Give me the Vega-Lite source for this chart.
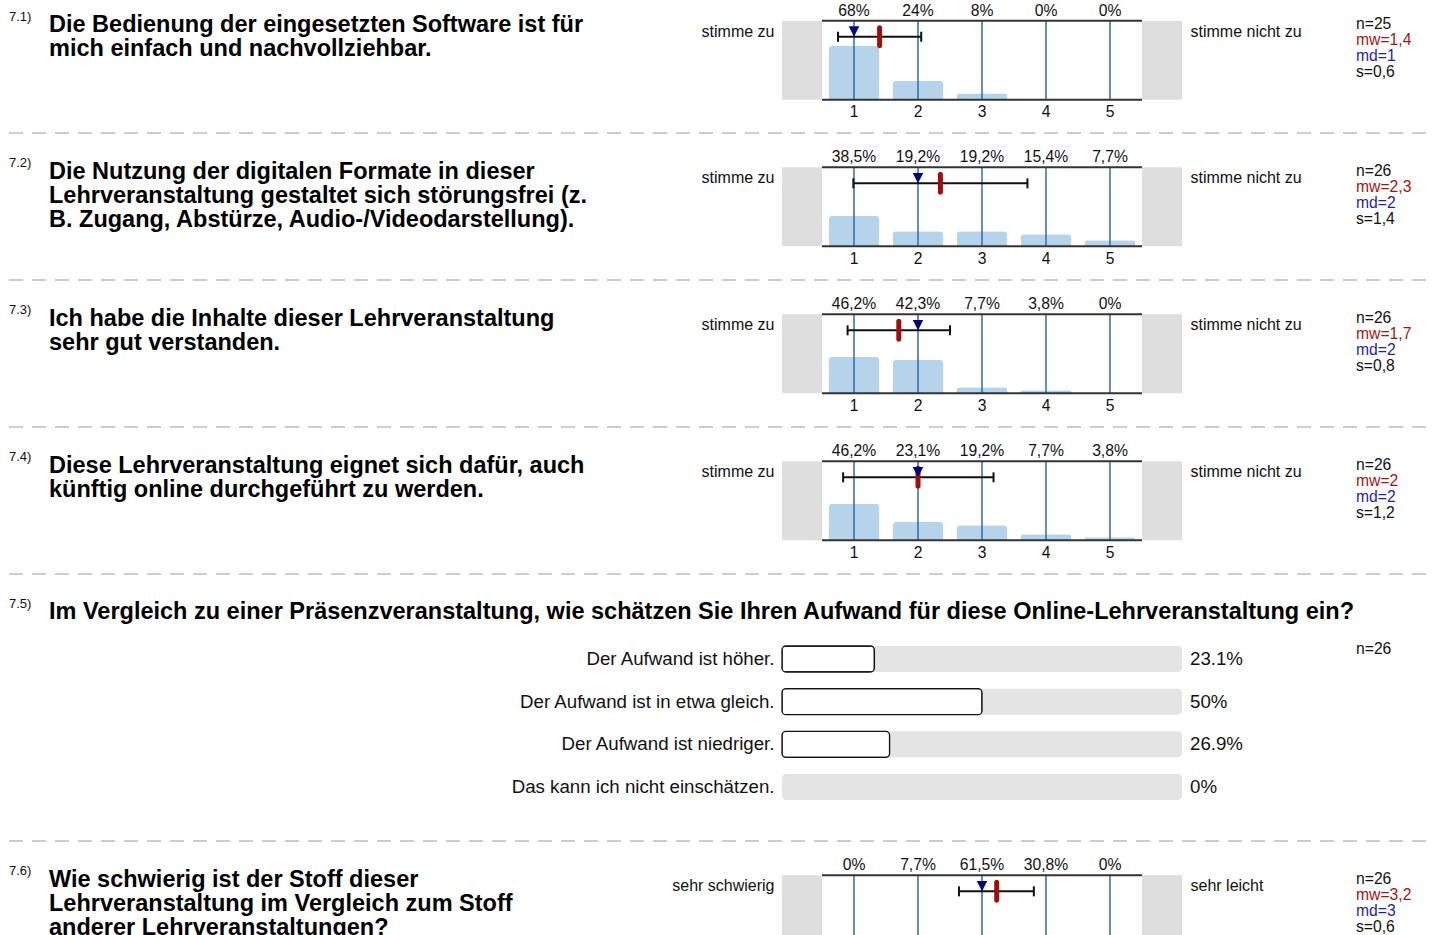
{
"$schema": "https://vega.github.io/schema/vega-lite/v6.json",
"background": "white",
"padding": {"left": 8, "top": 0, "right": 0, "bottom": 0},
"spacing": 0,
"bounds": "flush",
"columns": 3,
"align": "each",
"config": {
  "view": {"stroke": null},
  "font": "Liberation Sans",
  "text": {"font": "Liberation Sans", "color": "#111111"},
  "tick": {"opacity": 1},
  "axis": {"domain": false, "ticks": false, "tickSize": 0, "grid": false, "labelFont": "Liberation Sans", "titleFont": "Liberation Sans", "labelColor": "#111111", "titleColor": "#111111", "titleFontWeight": "normal", "labelFlush": false}
},
"datasets": {
  "bars": [
    {"q":"7.1","score":1,"pct":68,"label":"68%"},{"q":"7.1","score":2,"pct":24,"label":"24%"},{"q":"7.1","score":3,"pct":8,"label":"8%"},{"q":"7.1","score":4,"pct":0,"label":"0%"},{"q":"7.1","score":5,"pct":0,"label":"0%"},
    {"q":"7.2","score":1,"pct":38.5,"label":"38,5%"},{"q":"7.2","score":2,"pct":19.2,"label":"19,2%"},{"q":"7.2","score":3,"pct":19.2,"label":"19,2%"},{"q":"7.2","score":4,"pct":15.4,"label":"15,4%"},{"q":"7.2","score":5,"pct":7.7,"label":"7,7%"},
    {"q":"7.3","score":1,"pct":46.2,"label":"46,2%"},{"q":"7.3","score":2,"pct":42.3,"label":"42,3%"},{"q":"7.3","score":3,"pct":7.7,"label":"7,7%"},{"q":"7.3","score":4,"pct":3.8,"label":"3,8%"},{"q":"7.3","score":5,"pct":0,"label":"0%"},
    {"q":"7.4","score":1,"pct":46.2,"label":"46,2%"},{"q":"7.4","score":2,"pct":23.1,"label":"23,1%"},{"q":"7.4","score":3,"pct":19.2,"label":"19,2%"},{"q":"7.4","score":4,"pct":7.7,"label":"7,7%"},{"q":"7.4","score":5,"pct":3.8,"label":"3,8%"},
    {"q":"7.6","score":1,"pct":0,"label":"0%"},{"q":"7.6","score":2,"pct":7.7,"label":"7,7%"},{"q":"7.6","score":3,"pct":61.5,"label":"61,5%"},{"q":"7.6","score":4,"pct":30.8,"label":"30,8%"},{"q":"7.6","score":5,"pct":0,"label":"0%"}
  ],
  "summary": [
    {"q":"7.1","mean":1.4,"median":1,"lo":0.75,"hi":2.05},
    {"q":"7.2","mean":2.35,"median":2,"lo":0.99,"hi":3.71},
    {"q":"7.3","mean":1.7,"median":2,"lo":0.9,"hi":2.5},
    {"q":"7.4","mean":2.0,"median":2,"lo":0.83,"hi":3.18},
    {"q":"7.6","mean":3.23,"median":3,"lo":2.64,"hi":3.81}
  ],
  "qtext": [
    {"q":"7.1","part":"num","line":0,"text":"7.1)"},
    {"q":"7.1","part":"q","line":0,"text":"Die Bedienung der eingesetzten Software ist für"},
    {"q":"7.1","part":"q","line":1,"text":"mich einfach und nachvollziehbar."},
    {"q":"7.2","part":"num","line":0,"text":"7.2)"},
    {"q":"7.2","part":"q","line":0,"text":"Die Nutzung der digitalen Formate in dieser"},
    {"q":"7.2","part":"q","line":1,"text":"Lehrveranstaltung gestaltet sich störungsfrei (z."},
    {"q":"7.2","part":"q","line":2,"text":"B. Zugang, Abstürze, Audio-/Videodarstellung)."},
    {"q":"7.3","part":"num","line":0,"text":"7.3)"},
    {"q":"7.3","part":"q","line":0,"text":"Ich habe die Inhalte dieser Lehrveranstaltung"},
    {"q":"7.3","part":"q","line":1,"text":"sehr gut verstanden."},
    {"q":"7.4","part":"num","line":0,"text":"7.4)"},
    {"q":"7.4","part":"q","line":0,"text":"Diese Lehrveranstaltung eignet sich dafür, auch"},
    {"q":"7.4","part":"q","line":1,"text":"künftig online durchgeführt zu werden."},
    {"q":"7.5","part":"num","line":0,"text":"7.5)"},
    {"q":"7.5","part":"q","line":0,"text":"Im Vergleich zu einer Präsenzveranstaltung, wie schätzen Sie Ihren Aufwand für diese Online-Lehrveranstaltung ein?"},
    {"q":"7.6","part":"num","line":0,"text":"7.6)"},
    {"q":"7.6","part":"q","line":0,"text":"Wie schwierig ist der Stoff dieser"},
    {"q":"7.6","part":"q","line":1,"text":"Lehrveranstaltung im Vergleich zum Stoff"},
    {"q":"7.6","part":"q","line":2,"text":"anderer Lehrveranstaltungen?"}
  ],
  "stats": [
    {"q":"7.1","stat":"n","line":0,"text":"n=25"},{"q":"7.1","stat":"mw","line":1,"text":"mw=1,4"},{"q":"7.1","stat":"md","line":2,"text":"md=1"},{"q":"7.1","stat":"s","line":3,"text":"s=0,6"},
    {"q":"7.2","stat":"n","line":0,"text":"n=26"},{"q":"7.2","stat":"mw","line":1,"text":"mw=2,3"},{"q":"7.2","stat":"md","line":2,"text":"md=2"},{"q":"7.2","stat":"s","line":3,"text":"s=1,4"},
    {"q":"7.3","stat":"n","line":0,"text":"n=26"},{"q":"7.3","stat":"mw","line":1,"text":"mw=1,7"},{"q":"7.3","stat":"md","line":2,"text":"md=2"},{"q":"7.3","stat":"s","line":3,"text":"s=0,8"},
    {"q":"7.4","stat":"n","line":0,"text":"n=26"},{"q":"7.4","stat":"mw","line":1,"text":"mw=2"},{"q":"7.4","stat":"md","line":2,"text":"md=2"},{"q":"7.4","stat":"s","line":3,"text":"s=1,2"},
    {"q":"7.5","stat":"n","line":0,"text":"n=26"},
    {"q":"7.6","stat":"n","line":0,"text":"n=26"},{"q":"7.6","stat":"mw","line":1,"text":"mw=3,2"},{"q":"7.6","stat":"md","line":2,"text":"md=3"},{"q":"7.6","stat":"s","line":3,"text":"s=0,6"}
  ],
  "effort": [
    {"answer":"Der Aufwand ist höher.","pct":23.1,"label":"23.1%"},
    {"answer":"Der Aufwand ist in etwa gleich.","pct":50,"label":"50%"},
    {"answer":"Der Aufwand ist niedriger.","pct":26.9,"label":"26.9%"},
    {"answer":"Das kann ich nicht einschätzen.","pct":0,"label":"0%"}
  ]
},
"concat": [
  {"width": 773, "height": 133, "data": {"name": "qtext"}, "transform": [{"filter": "datum.q == '7.1'"}],
   "encoding": {"x": {"field": "part", "type": "nominal", "scale": {"type": "point", "domain": ["num","q"], "range": [0,40], "padding": 0}, "axis": null},
                "y": {"field": "line", "type": "quantitative", "scale": {"domain": [0,1], "range": [32,56], "nice": false, "zero": false}, "axis": null},
                "text": {"field": "text"}},
   "layer": [
    {"transform": [{"filter": "datum.part == 'num'"}], "mark": {"type": "text", "align": "left", "baseline": "alphabetic", "fontSize": 13, "dy": -11.5}},
    {"transform": [{"filter": "datum.part == 'q'"}], "mark": {"type": "text", "align": "left", "baseline": "alphabetic", "fontSize": 23.5, "fontWeight": "bold", "color": "#000000"}}
   ]},
  {"width": 400, "height": 99.7, "resolve": {"axis": {"y": "independent"}},
   "layer": [
    {"data": {"values": [{}]}, "mark": {"type": "rect", "color": "#dedede"},
     "encoding": {"x": {"datum": -0.125, "type": "quantitative", "scale": {"domain": [-0.125,6.125], "nice": false, "zero": false, "padding": 0}, "axis": null}, "x2": {"datum": 0.5},
                  "y": {"datum": 0, "type": "quantitative", "scale": {"domain": [0,100], "range": [99.7,20.7], "nice": false, "zero": false}, "axis": {"orient": "left", "labels": false, "title": "stimme zu", "titleAngle": 0, "titleAlign": "right", "titleBaseline": "alphabetic", "titleX": -8, "titleY": 36.2, "titleFontSize": 16}}, "y2": {"datum": 100}}},
    {"data": {"values": [{}]}, "mark": {"type": "rect", "color": "#dedede"},
     "encoding": {"x": {"datum": 5.5, "type": "quantitative", "scale": {"domain": [-0.125,6.125], "nice": false, "zero": false, "padding": 0}, "axis": null}, "x2": {"datum": 6.125},
                  "y": {"datum": 0, "type": "quantitative", "scale": {"domain": [0,100], "range": [99.7,20.7], "nice": false, "zero": false}, "axis": {"orient": "right", "labels": false, "title": "stimme nicht zu", "titleAngle": 0, "titleAlign": "left", "titleBaseline": "alphabetic", "titleX": 8, "titleY": 36.2, "titleFontSize": 16}}, "y2": {"datum": 100}}},
    {"data": {"name": "bars"}, "transform": [{"filter": "datum.q == '7.1'"}], "mark": {"type": "bar", "orient": "vertical", "size": 51, "color": "#b5d4eb", "cornerRadiusTopLeft": 4, "cornerRadiusTopRight": 4},
     "encoding": {"x": {"field": "score", "type": "quantitative", "scale": {"domain": [-0.125,6.125], "nice": false, "zero": false, "padding": 0}, "axis": null},
                  "y": {"field": "pct", "type": "quantitative", "scale": {"domain": [0,100], "range": [99.7,20.7], "nice": false, "zero": false}, "axis": null}}},
    {"data": {"name": "bars"}, "transform": [{"filter": "datum.q == '7.1'"}], "mark": {"type": "rule", "color": "#2d6cb0", "strokeWidth": 1.5},
     "encoding": {"x": {"field": "score", "type": "quantitative", "scale": {"domain": [-0.125,6.125], "nice": false, "zero": false, "padding": 0}, "axis": null},
                  "y": {"datum": 0, "type": "quantitative", "scale": {"domain": [0,100], "range": [99.7,20.7], "nice": false, "zero": false}, "axis": null}, "y2": {"datum": 100}}},
    {"data": {"values": [{}]}, "mark": {"type": "rule", "color": "#333333", "strokeWidth": 2},
     "encoding": {"x": {"datum": 0.5, "type": "quantitative", "scale": {"domain": [-0.125,6.125], "nice": false, "zero": false, "padding": 0}, "axis": null}, "x2": {"datum": 5.5},
                  "y": {"datum": 100, "type": "quantitative", "scale": {"domain": [0,100], "range": [99.7,20.7], "nice": false, "zero": false}, "axis": null}}},
    {"data": {"values": [{}]}, "mark": {"type": "rule", "color": "#333333", "strokeWidth": 2},
     "encoding": {"x": {"datum": 0.5, "type": "quantitative", "scale": {"domain": [-0.125,6.125], "nice": false, "zero": false, "padding": 0}, "axis": null}, "x2": {"datum": 5.5},
                  "y": {"datum": 0, "type": "quantitative", "scale": {"domain": [0,100], "range": [99.7,20.7], "nice": false, "zero": false}, "axis": null}}},
    {"data": {"name": "bars"}, "transform": [{"filter": "datum.q == '7.1'"}], "mark": {"type": "text", "align": "center", "baseline": "alphabetic", "dy": -5, "fontSize": 15.7},
     "encoding": {"x": {"field": "score", "type": "quantitative", "scale": {"domain": [-0.125,6.125], "nice": false, "zero": false, "padding": 0}, "axis": null},
                  "y": {"datum": 100, "type": "quantitative", "scale": {"domain": [0,100], "range": [99.7,20.7], "nice": false, "zero": false}, "axis": null}, "text": {"field": "label"}}},
    {"data": {"name": "bars"}, "transform": [{"filter": "datum.q == '7.1'"}], "mark": {"type": "text", "align": "center", "baseline": "alphabetic", "dy": 17.5, "fontSize": 15.7},
     "encoding": {"x": {"field": "score", "type": "quantitative", "scale": {"domain": [-0.125,6.125], "nice": false, "zero": false, "padding": 0}, "axis": null},
                  "y": {"datum": 0, "type": "quantitative", "scale": {"domain": [0,100], "range": [99.7,20.7], "nice": false, "zero": false}, "axis": null}, "text": {"field": "score", "type": "quantitative", "format": "d"}}},
    {"data": {"name": "summary"}, "transform": [{"filter": "datum.q == '7.1'"}], "mark": {"type": "rule", "color": "#111111", "strokeWidth": 2},
     "encoding": {"x": {"field": "lo", "type": "quantitative", "scale": {"domain": [-0.125,6.125], "nice": false, "zero": false, "padding": 0}, "axis": null}, "x2": {"field": "hi"},
                  "y": {"datum": 79.7, "type": "quantitative", "scale": {"domain": [0,100], "range": [99.7,20.7], "nice": false, "zero": false}, "axis": null}}},
    {"data": {"name": "summary"}, "transform": [{"filter": "datum.q == '7.1'"}], "mark": {"type": "tick", "orient": "vertical", "size": 10, "thickness": 2, "color": "#111111", "opacity": 1},
     "encoding": {"x": {"field": "lo", "type": "quantitative", "scale": {"domain": [-0.125,6.125], "nice": false, "zero": false, "padding": 0}, "axis": null},
                  "y": {"datum": 79.7, "type": "quantitative", "scale": {"domain": [0,100], "range": [99.7,20.7], "nice": false, "zero": false}, "axis": null}}},
    {"data": {"name": "summary"}, "transform": [{"filter": "datum.q == '7.1'"}], "mark": {"type": "tick", "orient": "vertical", "size": 10, "thickness": 2, "color": "#111111", "opacity": 1},
     "encoding": {"x": {"field": "hi", "type": "quantitative", "scale": {"domain": [-0.125,6.125], "nice": false, "zero": false, "padding": 0}, "axis": null},
                  "y": {"datum": 79.7, "type": "quantitative", "scale": {"domain": [0,100], "range": [99.7,20.7], "nice": false, "zero": false}, "axis": null}}},
    {"data": {"name": "summary"}, "transform": [{"filter": "datum.q == '7.1'"}], "mark": {"type": "tick", "orient": "vertical", "size": 23, "thickness": 5, "color": "#a00d0d", "opacity": 1, "cornerRadius": 2.5},
     "encoding": {"x": {"field": "mean", "type": "quantitative", "scale": {"domain": [-0.125,6.125], "nice": false, "zero": false, "padding": 0}, "axis": null},
                  "y": {"datum": 79.7, "type": "quantitative", "scale": {"domain": [0,100], "range": [99.7,20.7], "nice": false, "zero": false}, "axis": null}}},
    {"data": {"name": "summary"}, "transform": [{"filter": "datum.q == '7.1'"}], "mark": {"type": "point", "shape": "M-1,-1L1,-1L0,1Z", "size": 110, "filled": true, "opacity": 1, "color": "#00007f"},
     "encoding": {"x": {"field": "median", "type": "quantitative", "scale": {"domain": [-0.125,6.125], "nice": false, "zero": false, "padding": 0}, "axis": null},
                  "y": {"datum": 86.3, "type": "quantitative", "scale": {"domain": [0,100], "range": [99.7,20.7], "nice": false, "zero": false}, "axis": null}}}
   ]},
  {"width": 253, "height": 133, "data": {"name": "stats"}, "transform": [{"filter": "datum.q == '7.1'"}],
   "mark": {"type": "text", "align": "left", "baseline": "alphabetic", "fontSize": 15.7},
   "encoding": {"x": {"field": "q", "type": "nominal", "scale": {"type": "point", "range": [0,348]}, "axis": null},
                "y": {"field": "line", "type": "quantitative", "scale": {"domain": [0,1], "range": [29.2,45.2], "nice": false, "zero": false}, "axis": null},
                "color": {"field": "stat", "type": "nominal", "scale": {"domain": ["n","mw","md","s"], "range": ["#111111","#a31515","#1f1fa3","#111111"]}, "legend": null},
                "text": {"field": "text"}}},

  {"width": 773, "height": 1, "data": {"values": [{}]}, "mark": {"type": "rule", "stroke": "#bdbdbd", "strokeWidth": 1.5, "strokeDash": [14,9]},
   "encoding": {"x": {"datum": 0, "type": "quantitative", "scale": {"domain": [0,1], "range": [0,1422]}, "axis": null}, "x2": {"datum": 1},
                "y": {"datum": 1, "type": "quantitative", "scale": {"domain": [0,1]}, "axis": null}}},
  {"width": 400, "height": 1, "data": {"values": []}, "mark": {"type": "rule"}, "encoding": {"y": {"datum": 1, "type": "quantitative", "axis": null}}},
  {"width": 253, "height": 1, "data": {"values": []}, "mark": {"type": "rule"}, "encoding": {"y": {"datum": 1, "type": "quantitative", "axis": null}}},

  {"width": 773, "height": 145.67, "data": {"name": "qtext"}, "transform": [{"filter": "datum.q == '7.2'"}],
   "encoding": {"x": {"field": "part", "type": "nominal", "scale": {"type": "point", "domain": ["num","q"], "range": [0,40], "padding": 0}, "axis": null},
                "y": {"field": "line", "type": "quantitative", "scale": {"domain": [0,1], "range": [44.6,68.6], "nice": false, "zero": false}, "axis": null},
                "text": {"field": "text"}},
   "layer": [
    {"transform": [{"filter": "datum.part == 'num'"}], "mark": {"type": "text", "align": "left", "baseline": "alphabetic", "fontSize": 13, "dy": -11.5}},
    {"transform": [{"filter": "datum.part == 'q'"}], "mark": {"type": "text", "align": "left", "baseline": "alphabetic", "fontSize": 23.5, "fontWeight": "bold", "color": "#000000"}}
   ]},
  {"width": 400, "height": 112.3, "resolve": {"axis": {"y": "independent"}},
   "layer": [
    {"data": {"values": [{}]}, "mark": {"type": "rect", "color": "#dedede"},
     "encoding": {"x": {"datum": -0.125, "type": "quantitative", "scale": {"domain": [-0.125,6.125], "nice": false, "zero": false, "padding": 0}, "axis": null}, "x2": {"datum": 0.5},
                  "y": {"datum": 0, "type": "quantitative", "scale": {"domain": [0,100], "range": [112.3,33.3], "nice": false, "zero": false}, "axis": {"orient": "left", "labels": false, "title": "stimme zu", "titleAngle": 0, "titleAlign": "right", "titleBaseline": "alphabetic", "titleX": -8, "titleY": 48.8, "titleFontSize": 16}}, "y2": {"datum": 100}}},
    {"data": {"values": [{}]}, "mark": {"type": "rect", "color": "#dedede"},
     "encoding": {"x": {"datum": 5.5, "type": "quantitative", "scale": {"domain": [-0.125,6.125], "nice": false, "zero": false, "padding": 0}, "axis": null}, "x2": {"datum": 6.125},
                  "y": {"datum": 0, "type": "quantitative", "scale": {"domain": [0,100], "range": [112.3,33.3], "nice": false, "zero": false}, "axis": {"orient": "right", "labels": false, "title": "stimme nicht zu", "titleAngle": 0, "titleAlign": "left", "titleBaseline": "alphabetic", "titleX": 8, "titleY": 48.8, "titleFontSize": 16}}, "y2": {"datum": 100}}},
    {"data": {"name": "bars"}, "transform": [{"filter": "datum.q == '7.2'"}], "mark": {"type": "bar", "orient": "vertical", "size": 51, "color": "#b5d4eb", "cornerRadiusTopLeft": 4, "cornerRadiusTopRight": 4},
     "encoding": {"x": {"field": "score", "type": "quantitative", "scale": {"domain": [-0.125,6.125], "nice": false, "zero": false, "padding": 0}, "axis": null},
                  "y": {"field": "pct", "type": "quantitative", "scale": {"domain": [0,100], "range": [112.3,33.3], "nice": false, "zero": false}, "axis": null}}},
    {"data": {"name": "bars"}, "transform": [{"filter": "datum.q == '7.2'"}], "mark": {"type": "rule", "color": "#2d6cb0", "strokeWidth": 1.5},
     "encoding": {"x": {"field": "score", "type": "quantitative", "scale": {"domain": [-0.125,6.125], "nice": false, "zero": false, "padding": 0}, "axis": null},
                  "y": {"datum": 0, "type": "quantitative", "scale": {"domain": [0,100], "range": [112.3,33.3], "nice": false, "zero": false}, "axis": null}, "y2": {"datum": 100}}},
    {"data": {"values": [{}]}, "mark": {"type": "rule", "color": "#333333", "strokeWidth": 2},
     "encoding": {"x": {"datum": 0.5, "type": "quantitative", "scale": {"domain": [-0.125,6.125], "nice": false, "zero": false, "padding": 0}, "axis": null}, "x2": {"datum": 5.5},
                  "y": {"datum": 100, "type": "quantitative", "scale": {"domain": [0,100], "range": [112.3,33.3], "nice": false, "zero": false}, "axis": null}}},
    {"data": {"values": [{}]}, "mark": {"type": "rule", "color": "#333333", "strokeWidth": 2},
     "encoding": {"x": {"datum": 0.5, "type": "quantitative", "scale": {"domain": [-0.125,6.125], "nice": false, "zero": false, "padding": 0}, "axis": null}, "x2": {"datum": 5.5},
                  "y": {"datum": 0, "type": "quantitative", "scale": {"domain": [0,100], "range": [112.3,33.3], "nice": false, "zero": false}, "axis": null}}},
    {"data": {"name": "bars"}, "transform": [{"filter": "datum.q == '7.2'"}], "mark": {"type": "text", "align": "center", "baseline": "alphabetic", "dy": -5, "fontSize": 15.7},
     "encoding": {"x": {"field": "score", "type": "quantitative", "scale": {"domain": [-0.125,6.125], "nice": false, "zero": false, "padding": 0}, "axis": null},
                  "y": {"datum": 100, "type": "quantitative", "scale": {"domain": [0,100], "range": [112.3,33.3], "nice": false, "zero": false}, "axis": null}, "text": {"field": "label"}}},
    {"data": {"name": "bars"}, "transform": [{"filter": "datum.q == '7.2'"}], "mark": {"type": "text", "align": "center", "baseline": "alphabetic", "dy": 17.5, "fontSize": 15.7},
     "encoding": {"x": {"field": "score", "type": "quantitative", "scale": {"domain": [-0.125,6.125], "nice": false, "zero": false, "padding": 0}, "axis": null},
                  "y": {"datum": 0, "type": "quantitative", "scale": {"domain": [0,100], "range": [112.3,33.3], "nice": false, "zero": false}, "axis": null}, "text": {"field": "score", "type": "quantitative", "format": "d"}}},
    {"data": {"name": "summary"}, "transform": [{"filter": "datum.q == '7.2'"}], "mark": {"type": "rule", "color": "#111111", "strokeWidth": 2},
     "encoding": {"x": {"field": "lo", "type": "quantitative", "scale": {"domain": [-0.125,6.125], "nice": false, "zero": false, "padding": 0}, "axis": null}, "x2": {"field": "hi"},
                  "y": {"datum": 79.7, "type": "quantitative", "scale": {"domain": [0,100], "range": [112.3,33.3], "nice": false, "zero": false}, "axis": null}}},
    {"data": {"name": "summary"}, "transform": [{"filter": "datum.q == '7.2'"}], "mark": {"type": "tick", "orient": "vertical", "size": 10, "thickness": 2, "color": "#111111", "opacity": 1},
     "encoding": {"x": {"field": "lo", "type": "quantitative", "scale": {"domain": [-0.125,6.125], "nice": false, "zero": false, "padding": 0}, "axis": null},
                  "y": {"datum": 79.7, "type": "quantitative", "scale": {"domain": [0,100], "range": [112.3,33.3], "nice": false, "zero": false}, "axis": null}}},
    {"data": {"name": "summary"}, "transform": [{"filter": "datum.q == '7.2'"}], "mark": {"type": "tick", "orient": "vertical", "size": 10, "thickness": 2, "color": "#111111", "opacity": 1},
     "encoding": {"x": {"field": "hi", "type": "quantitative", "scale": {"domain": [-0.125,6.125], "nice": false, "zero": false, "padding": 0}, "axis": null},
                  "y": {"datum": 79.7, "type": "quantitative", "scale": {"domain": [0,100], "range": [112.3,33.3], "nice": false, "zero": false}, "axis": null}}},
    {"data": {"name": "summary"}, "transform": [{"filter": "datum.q == '7.2'"}], "mark": {"type": "tick", "orient": "vertical", "size": 23, "thickness": 5, "color": "#a00d0d", "opacity": 1, "cornerRadius": 2.5},
     "encoding": {"x": {"field": "mean", "type": "quantitative", "scale": {"domain": [-0.125,6.125], "nice": false, "zero": false, "padding": 0}, "axis": null},
                  "y": {"datum": 79.7, "type": "quantitative", "scale": {"domain": [0,100], "range": [112.3,33.3], "nice": false, "zero": false}, "axis": null}}},
    {"data": {"name": "summary"}, "transform": [{"filter": "datum.q == '7.2'"}], "mark": {"type": "point", "shape": "M-1,-1L1,-1L0,1Z", "size": 110, "filled": true, "opacity": 1, "color": "#00007f"},
     "encoding": {"x": {"field": "median", "type": "quantitative", "scale": {"domain": [-0.125,6.125], "nice": false, "zero": false, "padding": 0}, "axis": null},
                  "y": {"datum": 86.3, "type": "quantitative", "scale": {"domain": [0,100], "range": [112.3,33.3], "nice": false, "zero": false}, "axis": null}}}
   ]},
  {"width": 253, "height": 145.67, "data": {"name": "stats"}, "transform": [{"filter": "datum.q == '7.2'"}],
   "mark": {"type": "text", "align": "left", "baseline": "alphabetic", "fontSize": 15.7},
   "encoding": {"x": {"field": "q", "type": "nominal", "scale": {"type": "point", "range": [0,348]}, "axis": null},
                "y": {"field": "line", "type": "quantitative", "scale": {"domain": [0,1], "range": [41.8,57.8], "nice": false, "zero": false}, "axis": null},
                "color": {"field": "stat", "type": "nominal", "scale": {"domain": ["n","mw","md","s"], "range": ["#111111","#a31515","#1f1fa3","#111111"]}, "legend": null},
                "text": {"field": "text"}}},

  {"width": 773, "height": 1, "data": {"values": [{}]}, "mark": {"type": "rule", "stroke": "#bdbdbd", "strokeWidth": 1.5, "strokeDash": [14,9]},
   "encoding": {"x": {"datum": 0, "type": "quantitative", "scale": {"domain": [0,1], "range": [0,1422]}, "axis": null}, "x2": {"datum": 1},
                "y": {"datum": 1, "type": "quantitative", "scale": {"domain": [0,1]}, "axis": null}}},
  {"width": 400, "height": 1, "data": {"values": []}, "mark": {"type": "rule"}, "encoding": {"y": {"datum": 1, "type": "quantitative", "axis": null}}},
  {"width": 253, "height": 1, "data": {"values": []}, "mark": {"type": "rule"}, "encoding": {"y": {"datum": 1, "type": "quantitative", "axis": null}}},

  {"width": 773, "height": 145.67, "data": {"name": "qtext"}, "transform": [{"filter": "datum.q == '7.3'"}],
   "encoding": {"x": {"field": "part", "type": "nominal", "scale": {"type": "point", "domain": ["num","q"], "range": [0,40], "padding": 0}, "axis": null},
                "y": {"field": "line", "type": "quantitative", "scale": {"domain": [0,1], "range": [44.6,68.6], "nice": false, "zero": false}, "axis": null},
                "text": {"field": "text"}},
   "layer": [
    {"transform": [{"filter": "datum.part == 'num'"}], "mark": {"type": "text", "align": "left", "baseline": "alphabetic", "fontSize": 13, "dy": -11.5}},
    {"transform": [{"filter": "datum.part == 'q'"}], "mark": {"type": "text", "align": "left", "baseline": "alphabetic", "fontSize": 23.5, "fontWeight": "bold", "color": "#000000"}}
   ]},
  {"width": 400, "height": 112.3, "resolve": {"axis": {"y": "independent"}},
   "layer": [
    {"data": {"values": [{}]}, "mark": {"type": "rect", "color": "#dedede"},
     "encoding": {"x": {"datum": -0.125, "type": "quantitative", "scale": {"domain": [-0.125,6.125], "nice": false, "zero": false, "padding": 0}, "axis": null}, "x2": {"datum": 0.5},
                  "y": {"datum": 0, "type": "quantitative", "scale": {"domain": [0,100], "range": [112.3,33.3], "nice": false, "zero": false}, "axis": {"orient": "left", "labels": false, "title": "stimme zu", "titleAngle": 0, "titleAlign": "right", "titleBaseline": "alphabetic", "titleX": -8, "titleY": 48.8, "titleFontSize": 16}}, "y2": {"datum": 100}}},
    {"data": {"values": [{}]}, "mark": {"type": "rect", "color": "#dedede"},
     "encoding": {"x": {"datum": 5.5, "type": "quantitative", "scale": {"domain": [-0.125,6.125], "nice": false, "zero": false, "padding": 0}, "axis": null}, "x2": {"datum": 6.125},
                  "y": {"datum": 0, "type": "quantitative", "scale": {"domain": [0,100], "range": [112.3,33.3], "nice": false, "zero": false}, "axis": {"orient": "right", "labels": false, "title": "stimme nicht zu", "titleAngle": 0, "titleAlign": "left", "titleBaseline": "alphabetic", "titleX": 8, "titleY": 48.8, "titleFontSize": 16}}, "y2": {"datum": 100}}},
    {"data": {"name": "bars"}, "transform": [{"filter": "datum.q == '7.3'"}], "mark": {"type": "bar", "orient": "vertical", "size": 51, "color": "#b5d4eb", "cornerRadiusTopLeft": 4, "cornerRadiusTopRight": 4},
     "encoding": {"x": {"field": "score", "type": "quantitative", "scale": {"domain": [-0.125,6.125], "nice": false, "zero": false, "padding": 0}, "axis": null},
                  "y": {"field": "pct", "type": "quantitative", "scale": {"domain": [0,100], "range": [112.3,33.3], "nice": false, "zero": false}, "axis": null}}},
    {"data": {"name": "bars"}, "transform": [{"filter": "datum.q == '7.3'"}], "mark": {"type": "rule", "color": "#2d6cb0", "strokeWidth": 1.5},
     "encoding": {"x": {"field": "score", "type": "quantitative", "scale": {"domain": [-0.125,6.125], "nice": false, "zero": false, "padding": 0}, "axis": null},
                  "y": {"datum": 0, "type": "quantitative", "scale": {"domain": [0,100], "range": [112.3,33.3], "nice": false, "zero": false}, "axis": null}, "y2": {"datum": 100}}},
    {"data": {"values": [{}]}, "mark": {"type": "rule", "color": "#333333", "strokeWidth": 2},
     "encoding": {"x": {"datum": 0.5, "type": "quantitative", "scale": {"domain": [-0.125,6.125], "nice": false, "zero": false, "padding": 0}, "axis": null}, "x2": {"datum": 5.5},
                  "y": {"datum": 100, "type": "quantitative", "scale": {"domain": [0,100], "range": [112.3,33.3], "nice": false, "zero": false}, "axis": null}}},
    {"data": {"values": [{}]}, "mark": {"type": "rule", "color": "#333333", "strokeWidth": 2},
     "encoding": {"x": {"datum": 0.5, "type": "quantitative", "scale": {"domain": [-0.125,6.125], "nice": false, "zero": false, "padding": 0}, "axis": null}, "x2": {"datum": 5.5},
                  "y": {"datum": 0, "type": "quantitative", "scale": {"domain": [0,100], "range": [112.3,33.3], "nice": false, "zero": false}, "axis": null}}},
    {"data": {"name": "bars"}, "transform": [{"filter": "datum.q == '7.3'"}], "mark": {"type": "text", "align": "center", "baseline": "alphabetic", "dy": -5, "fontSize": 15.7},
     "encoding": {"x": {"field": "score", "type": "quantitative", "scale": {"domain": [-0.125,6.125], "nice": false, "zero": false, "padding": 0}, "axis": null},
                  "y": {"datum": 100, "type": "quantitative", "scale": {"domain": [0,100], "range": [112.3,33.3], "nice": false, "zero": false}, "axis": null}, "text": {"field": "label"}}},
    {"data": {"name": "bars"}, "transform": [{"filter": "datum.q == '7.3'"}], "mark": {"type": "text", "align": "center", "baseline": "alphabetic", "dy": 17.5, "fontSize": 15.7},
     "encoding": {"x": {"field": "score", "type": "quantitative", "scale": {"domain": [-0.125,6.125], "nice": false, "zero": false, "padding": 0}, "axis": null},
                  "y": {"datum": 0, "type": "quantitative", "scale": {"domain": [0,100], "range": [112.3,33.3], "nice": false, "zero": false}, "axis": null}, "text": {"field": "score", "type": "quantitative", "format": "d"}}},
    {"data": {"name": "summary"}, "transform": [{"filter": "datum.q == '7.3'"}], "mark": {"type": "rule", "color": "#111111", "strokeWidth": 2},
     "encoding": {"x": {"field": "lo", "type": "quantitative", "scale": {"domain": [-0.125,6.125], "nice": false, "zero": false, "padding": 0}, "axis": null}, "x2": {"field": "hi"},
                  "y": {"datum": 79.7, "type": "quantitative", "scale": {"domain": [0,100], "range": [112.3,33.3], "nice": false, "zero": false}, "axis": null}}},
    {"data": {"name": "summary"}, "transform": [{"filter": "datum.q == '7.3'"}], "mark": {"type": "tick", "orient": "vertical", "size": 10, "thickness": 2, "color": "#111111", "opacity": 1},
     "encoding": {"x": {"field": "lo", "type": "quantitative", "scale": {"domain": [-0.125,6.125], "nice": false, "zero": false, "padding": 0}, "axis": null},
                  "y": {"datum": 79.7, "type": "quantitative", "scale": {"domain": [0,100], "range": [112.3,33.3], "nice": false, "zero": false}, "axis": null}}},
    {"data": {"name": "summary"}, "transform": [{"filter": "datum.q == '7.3'"}], "mark": {"type": "tick", "orient": "vertical", "size": 10, "thickness": 2, "color": "#111111", "opacity": 1},
     "encoding": {"x": {"field": "hi", "type": "quantitative", "scale": {"domain": [-0.125,6.125], "nice": false, "zero": false, "padding": 0}, "axis": null},
                  "y": {"datum": 79.7, "type": "quantitative", "scale": {"domain": [0,100], "range": [112.3,33.3], "nice": false, "zero": false}, "axis": null}}},
    {"data": {"name": "summary"}, "transform": [{"filter": "datum.q == '7.3'"}], "mark": {"type": "tick", "orient": "vertical", "size": 23, "thickness": 5, "color": "#a00d0d", "opacity": 1, "cornerRadius": 2.5},
     "encoding": {"x": {"field": "mean", "type": "quantitative", "scale": {"domain": [-0.125,6.125], "nice": false, "zero": false, "padding": 0}, "axis": null},
                  "y": {"datum": 79.7, "type": "quantitative", "scale": {"domain": [0,100], "range": [112.3,33.3], "nice": false, "zero": false}, "axis": null}}},
    {"data": {"name": "summary"}, "transform": [{"filter": "datum.q == '7.3'"}], "mark": {"type": "point", "shape": "M-1,-1L1,-1L0,1Z", "size": 110, "filled": true, "opacity": 1, "color": "#00007f"},
     "encoding": {"x": {"field": "median", "type": "quantitative", "scale": {"domain": [-0.125,6.125], "nice": false, "zero": false, "padding": 0}, "axis": null},
                  "y": {"datum": 86.3, "type": "quantitative", "scale": {"domain": [0,100], "range": [112.3,33.3], "nice": false, "zero": false}, "axis": null}}}
   ]},
  {"width": 253, "height": 145.67, "data": {"name": "stats"}, "transform": [{"filter": "datum.q == '7.3'"}],
   "mark": {"type": "text", "align": "left", "baseline": "alphabetic", "fontSize": 15.7},
   "encoding": {"x": {"field": "q", "type": "nominal", "scale": {"type": "point", "range": [0,348]}, "axis": null},
                "y": {"field": "line", "type": "quantitative", "scale": {"domain": [0,1], "range": [41.8,57.8], "nice": false, "zero": false}, "axis": null},
                "color": {"field": "stat", "type": "nominal", "scale": {"domain": ["n","mw","md","s"], "range": ["#111111","#a31515","#1f1fa3","#111111"]}, "legend": null},
                "text": {"field": "text"}}},

  {"width": 773, "height": 1, "data": {"values": [{}]}, "mark": {"type": "rule", "stroke": "#bdbdbd", "strokeWidth": 1.5, "strokeDash": [14,9]},
   "encoding": {"x": {"datum": 0, "type": "quantitative", "scale": {"domain": [0,1], "range": [0,1422]}, "axis": null}, "x2": {"datum": 1},
                "y": {"datum": 1, "type": "quantitative", "scale": {"domain": [0,1]}, "axis": null}}},
  {"width": 400, "height": 1, "data": {"values": []}, "mark": {"type": "rule"}, "encoding": {"y": {"datum": 1, "type": "quantitative", "axis": null}}},
  {"width": 253, "height": 1, "data": {"values": []}, "mark": {"type": "rule"}, "encoding": {"y": {"datum": 1, "type": "quantitative", "axis": null}}},

  {"width": 773, "height": 145.67, "data": {"name": "qtext"}, "transform": [{"filter": "datum.q == '7.4'"}],
   "encoding": {"x": {"field": "part", "type": "nominal", "scale": {"type": "point", "domain": ["num","q"], "range": [0,40], "padding": 0}, "axis": null},
                "y": {"field": "line", "type": "quantitative", "scale": {"domain": [0,1], "range": [44.6,68.6], "nice": false, "zero": false}, "axis": null},
                "text": {"field": "text"}},
   "layer": [
    {"transform": [{"filter": "datum.part == 'num'"}], "mark": {"type": "text", "align": "left", "baseline": "alphabetic", "fontSize": 13, "dy": -11.5}},
    {"transform": [{"filter": "datum.part == 'q'"}], "mark": {"type": "text", "align": "left", "baseline": "alphabetic", "fontSize": 23.5, "fontWeight": "bold", "color": "#000000"}}
   ]},
  {"width": 400, "height": 112.3, "resolve": {"axis": {"y": "independent"}},
   "layer": [
    {"data": {"values": [{}]}, "mark": {"type": "rect", "color": "#dedede"},
     "encoding": {"x": {"datum": -0.125, "type": "quantitative", "scale": {"domain": [-0.125,6.125], "nice": false, "zero": false, "padding": 0}, "axis": null}, "x2": {"datum": 0.5},
                  "y": {"datum": 0, "type": "quantitative", "scale": {"domain": [0,100], "range": [112.3,33.3], "nice": false, "zero": false}, "axis": {"orient": "left", "labels": false, "title": "stimme zu", "titleAngle": 0, "titleAlign": "right", "titleBaseline": "alphabetic", "titleX": -8, "titleY": 48.8, "titleFontSize": 16}}, "y2": {"datum": 100}}},
    {"data": {"values": [{}]}, "mark": {"type": "rect", "color": "#dedede"},
     "encoding": {"x": {"datum": 5.5, "type": "quantitative", "scale": {"domain": [-0.125,6.125], "nice": false, "zero": false, "padding": 0}, "axis": null}, "x2": {"datum": 6.125},
                  "y": {"datum": 0, "type": "quantitative", "scale": {"domain": [0,100], "range": [112.3,33.3], "nice": false, "zero": false}, "axis": {"orient": "right", "labels": false, "title": "stimme nicht zu", "titleAngle": 0, "titleAlign": "left", "titleBaseline": "alphabetic", "titleX": 8, "titleY": 48.8, "titleFontSize": 16}}, "y2": {"datum": 100}}},
    {"data": {"name": "bars"}, "transform": [{"filter": "datum.q == '7.4'"}], "mark": {"type": "bar", "orient": "vertical", "size": 51, "color": "#b5d4eb", "cornerRadiusTopLeft": 4, "cornerRadiusTopRight": 4},
     "encoding": {"x": {"field": "score", "type": "quantitative", "scale": {"domain": [-0.125,6.125], "nice": false, "zero": false, "padding": 0}, "axis": null},
                  "y": {"field": "pct", "type": "quantitative", "scale": {"domain": [0,100], "range": [112.3,33.3], "nice": false, "zero": false}, "axis": null}}},
    {"data": {"name": "bars"}, "transform": [{"filter": "datum.q == '7.4'"}], "mark": {"type": "rule", "color": "#2d6cb0", "strokeWidth": 1.5},
     "encoding": {"x": {"field": "score", "type": "quantitative", "scale": {"domain": [-0.125,6.125], "nice": false, "zero": false, "padding": 0}, "axis": null},
                  "y": {"datum": 0, "type": "quantitative", "scale": {"domain": [0,100], "range": [112.3,33.3], "nice": false, "zero": false}, "axis": null}, "y2": {"datum": 100}}},
    {"data": {"values": [{}]}, "mark": {"type": "rule", "color": "#333333", "strokeWidth": 2},
     "encoding": {"x": {"datum": 0.5, "type": "quantitative", "scale": {"domain": [-0.125,6.125], "nice": false, "zero": false, "padding": 0}, "axis": null}, "x2": {"datum": 5.5},
                  "y": {"datum": 100, "type": "quantitative", "scale": {"domain": [0,100], "range": [112.3,33.3], "nice": false, "zero": false}, "axis": null}}},
    {"data": {"values": [{}]}, "mark": {"type": "rule", "color": "#333333", "strokeWidth": 2},
     "encoding": {"x": {"datum": 0.5, "type": "quantitative", "scale": {"domain": [-0.125,6.125], "nice": false, "zero": false, "padding": 0}, "axis": null}, "x2": {"datum": 5.5},
                  "y": {"datum": 0, "type": "quantitative", "scale": {"domain": [0,100], "range": [112.3,33.3], "nice": false, "zero": false}, "axis": null}}},
    {"data": {"name": "bars"}, "transform": [{"filter": "datum.q == '7.4'"}], "mark": {"type": "text", "align": "center", "baseline": "alphabetic", "dy": -5, "fontSize": 15.7},
     "encoding": {"x": {"field": "score", "type": "quantitative", "scale": {"domain": [-0.125,6.125], "nice": false, "zero": false, "padding": 0}, "axis": null},
                  "y": {"datum": 100, "type": "quantitative", "scale": {"domain": [0,100], "range": [112.3,33.3], "nice": false, "zero": false}, "axis": null}, "text": {"field": "label"}}},
    {"data": {"name": "bars"}, "transform": [{"filter": "datum.q == '7.4'"}], "mark": {"type": "text", "align": "center", "baseline": "alphabetic", "dy": 17.5, "fontSize": 15.7},
     "encoding": {"x": {"field": "score", "type": "quantitative", "scale": {"domain": [-0.125,6.125], "nice": false, "zero": false, "padding": 0}, "axis": null},
                  "y": {"datum": 0, "type": "quantitative", "scale": {"domain": [0,100], "range": [112.3,33.3], "nice": false, "zero": false}, "axis": null}, "text": {"field": "score", "type": "quantitative", "format": "d"}}},
    {"data": {"name": "summary"}, "transform": [{"filter": "datum.q == '7.4'"}], "mark": {"type": "rule", "color": "#111111", "strokeWidth": 2},
     "encoding": {"x": {"field": "lo", "type": "quantitative", "scale": {"domain": [-0.125,6.125], "nice": false, "zero": false, "padding": 0}, "axis": null}, "x2": {"field": "hi"},
                  "y": {"datum": 79.7, "type": "quantitative", "scale": {"domain": [0,100], "range": [112.3,33.3], "nice": false, "zero": false}, "axis": null}}},
    {"data": {"name": "summary"}, "transform": [{"filter": "datum.q == '7.4'"}], "mark": {"type": "tick", "orient": "vertical", "size": 10, "thickness": 2, "color": "#111111", "opacity": 1},
     "encoding": {"x": {"field": "lo", "type": "quantitative", "scale": {"domain": [-0.125,6.125], "nice": false, "zero": false, "padding": 0}, "axis": null},
                  "y": {"datum": 79.7, "type": "quantitative", "scale": {"domain": [0,100], "range": [112.3,33.3], "nice": false, "zero": false}, "axis": null}}},
    {"data": {"name": "summary"}, "transform": [{"filter": "datum.q == '7.4'"}], "mark": {"type": "tick", "orient": "vertical", "size": 10, "thickness": 2, "color": "#111111", "opacity": 1},
     "encoding": {"x": {"field": "hi", "type": "quantitative", "scale": {"domain": [-0.125,6.125], "nice": false, "zero": false, "padding": 0}, "axis": null},
                  "y": {"datum": 79.7, "type": "quantitative", "scale": {"domain": [0,100], "range": [112.3,33.3], "nice": false, "zero": false}, "axis": null}}},
    {"data": {"name": "summary"}, "transform": [{"filter": "datum.q == '7.4'"}], "mark": {"type": "tick", "orient": "vertical", "size": 23, "thickness": 5, "color": "#a00d0d", "opacity": 1, "cornerRadius": 2.5},
     "encoding": {"x": {"field": "mean", "type": "quantitative", "scale": {"domain": [-0.125,6.125], "nice": false, "zero": false, "padding": 0}, "axis": null},
                  "y": {"datum": 79.7, "type": "quantitative", "scale": {"domain": [0,100], "range": [112.3,33.3], "nice": false, "zero": false}, "axis": null}}},
    {"data": {"name": "summary"}, "transform": [{"filter": "datum.q == '7.4'"}], "mark": {"type": "point", "shape": "M-1,-1L1,-1L0,1Z", "size": 110, "filled": true, "opacity": 1, "color": "#00007f"},
     "encoding": {"x": {"field": "median", "type": "quantitative", "scale": {"domain": [-0.125,6.125], "nice": false, "zero": false, "padding": 0}, "axis": null},
                  "y": {"datum": 86.3, "type": "quantitative", "scale": {"domain": [0,100], "range": [112.3,33.3], "nice": false, "zero": false}, "axis": null}}}
   ]},
  {"width": 253, "height": 145.67, "data": {"name": "stats"}, "transform": [{"filter": "datum.q == '7.4'"}],
   "mark": {"type": "text", "align": "left", "baseline": "alphabetic", "fontSize": 15.7},
   "encoding": {"x": {"field": "q", "type": "nominal", "scale": {"type": "point", "range": [0,348]}, "axis": null},
                "y": {"field": "line", "type": "quantitative", "scale": {"domain": [0,1], "range": [41.8,57.8], "nice": false, "zero": false}, "axis": null},
                "color": {"field": "stat", "type": "nominal", "scale": {"domain": ["n","mw","md","s"], "range": ["#111111","#a31515","#1f1fa3","#111111"]}, "legend": null},
                "text": {"field": "text"}}},

  {"width": 773, "height": 1, "data": {"values": [{}]}, "mark": {"type": "rule", "stroke": "#bdbdbd", "strokeWidth": 1.5, "strokeDash": [14,9]},
   "encoding": {"x": {"datum": 0, "type": "quantitative", "scale": {"domain": [0,1], "range": [0,1422]}, "axis": null}, "x2": {"datum": 1},
                "y": {"datum": 1, "type": "quantitative", "scale": {"domain": [0,1]}, "axis": null}}},
  {"width": 400, "height": 1, "data": {"values": []}, "mark": {"type": "rule"}, "encoding": {"y": {"datum": 1, "type": "quantitative", "axis": null}}},
  {"width": 253, "height": 1, "data": {"values": []}, "mark": {"type": "rule"}, "encoding": {"y": {"datum": 1, "type": "quantitative", "axis": null}}},

  {"width": 773, "height": 266, "data": {"name": "qtext"}, "transform": [{"filter": "datum.q == '7.5'"}],
   "encoding": {"x": {"field": "part", "type": "nominal", "scale": {"type": "point", "domain": ["num","q"], "range": [0,40], "padding": 0}, "axis": null},
                "y": {"field": "line", "type": "quantitative", "scale": {"domain": [0,1], "range": [44,68], "nice": false, "zero": false}, "axis": null},
                "text": {"field": "text"}},
   "layer": [
    {"transform": [{"filter": "datum.part == 'num'"}], "mark": {"type": "text", "align": "left", "baseline": "alphabetic", "fontSize": 13, "dy": -11.5}},
    {"transform": [{"filter": "datum.part == 'q'"}], "mark": {"type": "text", "align": "left", "baseline": "alphabetic", "fontSize": 23.5, "fontWeight": "bold", "color": "#000000"}}
   ]},
  {"width": 400, "height": 266, "data": {"name": "effort"},
   "encoding": {"y": {"field": "answer", "type": "nominal", "sort": null, "scale": {"type": "band", "range": [62.67,233.33], "paddingInner": 0.39, "paddingOuter": 0.195},
                      "axis": {"title": null, "labelPadding": 8, "labelFontSize": 18.7, "labelLimit": 0}}},
   "layer": [
    {"mark": {"type": "bar", "color": "#e4e4e4", "cornerRadius": 4},
     "encoding": {"x": {"datum": 100, "type": "quantitative", "scale": {"domain": [0,100], "nice": false}, "axis": null}}},
    {"transform": [{"filter": "datum.pct > 0"}], "mark": {"type": "bar", "fill": "#ffffff", "stroke": "#111111", "strokeWidth": 1.3, "cornerRadius": 4},
     "encoding": {"x": {"field": "pct", "type": "quantitative", "scale": {"domain": [0,100], "nice": false}, "axis": null}}},
    {"mark": {"type": "text", "align": "left", "baseline": "middle", "dx": 8, "fontSize": 18.7},
     "encoding": {"x": {"datum": 100, "type": "quantitative", "scale": {"domain": [0,100], "nice": false}, "axis": null}, "text": {"field": "label"}}}
   ]},
  {"width": 253, "height": 266, "data": {"name": "stats"}, "transform": [{"filter": "datum.q == '7.5'"}],
   "mark": {"type": "text", "align": "left", "baseline": "alphabetic", "fontSize": 15.7},
   "encoding": {"x": {"field": "q", "type": "nominal", "scale": {"type": "point", "range": [0,348]}, "axis": null},
                "y": {"field": "line", "type": "quantitative", "scale": {"domain": [0,1], "range": [78.5,94.5], "nice": false, "zero": false}, "axis": null},
                "color": {"field": "stat", "type": "nominal", "scale": {"domain": ["n","mw","md","s"], "range": ["#111111","#a31515","#1f1fa3","#111111"]}, "legend": null},
                "text": {"field": "text"}}},

  {"width": 773, "height": 1, "data": {"values": [{}]}, "mark": {"type": "rule", "stroke": "#bdbdbd", "strokeWidth": 1.5, "strokeDash": [14,9]},
   "encoding": {"x": {"datum": 0, "type": "quantitative", "scale": {"domain": [0,1], "range": [0,1422]}, "axis": null}, "x2": {"datum": 1},
                "y": {"datum": 1, "type": "quantitative", "scale": {"domain": [0,1]}, "axis": null}}},
  {"width": 400, "height": 1, "data": {"values": []}, "mark": {"type": "rule"}, "encoding": {"y": {"datum": 1, "type": "quantitative", "axis": null}}},
  {"width": 253, "height": 1, "data": {"values": []}, "mark": {"type": "rule"}, "encoding": {"y": {"datum": 1, "type": "quantitative", "axis": null}}},

  {"width": 773, "height": 94, "data": {"name": "qtext"}, "transform": [{"filter": "datum.q == '7.6'"}],
   "encoding": {"x": {"field": "part", "type": "nominal", "scale": {"type": "point", "domain": ["num","q"], "range": [0,40], "padding": 0}, "axis": null},
                "y": {"field": "line", "type": "quantitative", "scale": {"domain": [0,1], "range": [44.6,68.6], "nice": false, "zero": false}, "axis": null},
                "text": {"field": "text"}},
   "layer": [
    {"transform": [{"filter": "datum.part == 'num'"}], "mark": {"type": "text", "align": "left", "baseline": "alphabetic", "fontSize": 13, "dy": -11.5, "clip": true}},
    {"transform": [{"filter": "datum.part == 'q'"}], "mark": {"type": "text", "align": "left", "baseline": "alphabetic", "fontSize": 23.5, "fontWeight": "bold", "color": "#000000", "clip": true}}
   ]},
  {"width": 400, "height": 94, "resolve": {"axis": {"y": "independent"}},
   "layer": [
    {"data": {"values": [{}]}, "mark": {"type": "rect", "color": "#dedede", "clip": true},
     "encoding": {"x": {"datum": -0.125, "type": "quantitative", "scale": {"domain": [-0.125,6.125], "nice": false, "zero": false, "padding": 0}, "axis": null}, "x2": {"datum": 0.5},
                  "y": {"datum": 0, "type": "quantitative", "scale": {"domain": [0,100], "range": [112.3,33.3], "nice": false, "zero": false}, "axis": {"orient": "left", "labels": false, "title": "sehr schwierig", "titleAngle": 0, "titleAlign": "right", "titleBaseline": "alphabetic", "titleX": -8, "titleY": 48.8, "titleFontSize": 16}}, "y2": {"datum": 100}}},
    {"data": {"values": [{}]}, "mark": {"type": "rect", "color": "#dedede", "clip": true},
     "encoding": {"x": {"datum": 5.5, "type": "quantitative", "scale": {"domain": [-0.125,6.125], "nice": false, "zero": false, "padding": 0}, "axis": null}, "x2": {"datum": 6.125},
                  "y": {"datum": 0, "type": "quantitative", "scale": {"domain": [0,100], "range": [112.3,33.3], "nice": false, "zero": false}, "axis": {"orient": "right", "labels": false, "title": "sehr leicht", "titleAngle": 0, "titleAlign": "left", "titleBaseline": "alphabetic", "titleX": 8, "titleY": 48.8, "titleFontSize": 16}}, "y2": {"datum": 100}}},
    {"data": {"name": "bars"}, "transform": [{"filter": "datum.q == '7.6'"}], "mark": {"type": "bar", "orient": "vertical", "size": 51, "color": "#b5d4eb", "cornerRadiusTopLeft": 4, "cornerRadiusTopRight": 4, "clip": true},
     "encoding": {"x": {"field": "score", "type": "quantitative", "scale": {"domain": [-0.125,6.125], "nice": false, "zero": false, "padding": 0}, "axis": null},
                  "y": {"field": "pct", "type": "quantitative", "scale": {"domain": [0,100], "range": [112.3,33.3], "nice": false, "zero": false}, "axis": null}}},
    {"data": {"name": "bars"}, "transform": [{"filter": "datum.q == '7.6'"}], "mark": {"type": "rule", "color": "#2d6cb0", "strokeWidth": 1.5, "clip": true},
     "encoding": {"x": {"field": "score", "type": "quantitative", "scale": {"domain": [-0.125,6.125], "nice": false, "zero": false, "padding": 0}, "axis": null},
                  "y": {"datum": 0, "type": "quantitative", "scale": {"domain": [0,100], "range": [112.3,33.3], "nice": false, "zero": false}, "axis": null}, "y2": {"datum": 100}}},
    {"data": {"values": [{}]}, "mark": {"type": "rule", "color": "#333333", "strokeWidth": 2},
     "encoding": {"x": {"datum": 0.5, "type": "quantitative", "scale": {"domain": [-0.125,6.125], "nice": false, "zero": false, "padding": 0}, "axis": null}, "x2": {"datum": 5.5},
                  "y": {"datum": 100, "type": "quantitative", "scale": {"domain": [0,100], "range": [112.3,33.3], "nice": false, "zero": false}, "axis": null}}},
    {"data": {"name": "bars"}, "transform": [{"filter": "datum.q == '7.6'"}], "mark": {"type": "text", "align": "center", "baseline": "alphabetic", "dy": -5, "fontSize": 15.7},
     "encoding": {"x": {"field": "score", "type": "quantitative", "scale": {"domain": [-0.125,6.125], "nice": false, "zero": false, "padding": 0}, "axis": null},
                  "y": {"datum": 100, "type": "quantitative", "scale": {"domain": [0,100], "range": [112.3,33.3], "nice": false, "zero": false}, "axis": null}, "text": {"field": "label"}}},
    {"data": {"name": "summary"}, "transform": [{"filter": "datum.q == '7.6'"}], "mark": {"type": "rule", "color": "#111111", "strokeWidth": 2},
     "encoding": {"x": {"field": "lo", "type": "quantitative", "scale": {"domain": [-0.125,6.125], "nice": false, "zero": false, "padding": 0}, "axis": null}, "x2": {"field": "hi"},
                  "y": {"datum": 79.7, "type": "quantitative", "scale": {"domain": [0,100], "range": [112.3,33.3], "nice": false, "zero": false}, "axis": null}}},
    {"data": {"name": "summary"}, "transform": [{"filter": "datum.q == '7.6'"}], "mark": {"type": "tick", "orient": "vertical", "size": 10, "thickness": 2, "color": "#111111", "opacity": 1},
     "encoding": {"x": {"field": "lo", "type": "quantitative", "scale": {"domain": [-0.125,6.125], "nice": false, "zero": false, "padding": 0}, "axis": null},
                  "y": {"datum": 79.7, "type": "quantitative", "scale": {"domain": [0,100], "range": [112.3,33.3], "nice": false, "zero": false}, "axis": null}}},
    {"data": {"name": "summary"}, "transform": [{"filter": "datum.q == '7.6'"}], "mark": {"type": "tick", "orient": "vertical", "size": 10, "thickness": 2, "color": "#111111", "opacity": 1},
     "encoding": {"x": {"field": "hi", "type": "quantitative", "scale": {"domain": [-0.125,6.125], "nice": false, "zero": false, "padding": 0}, "axis": null},
                  "y": {"datum": 79.7, "type": "quantitative", "scale": {"domain": [0,100], "range": [112.3,33.3], "nice": false, "zero": false}, "axis": null}}},
    {"data": {"name": "summary"}, "transform": [{"filter": "datum.q == '7.6'"}], "mark": {"type": "tick", "orient": "vertical", "size": 23, "thickness": 5, "color": "#a00d0d", "opacity": 1, "cornerRadius": 2.5},
     "encoding": {"x": {"field": "mean", "type": "quantitative", "scale": {"domain": [-0.125,6.125], "nice": false, "zero": false, "padding": 0}, "axis": null},
                  "y": {"datum": 79.7, "type": "quantitative", "scale": {"domain": [0,100], "range": [112.3,33.3], "nice": false, "zero": false}, "axis": null}}},
    {"data": {"name": "summary"}, "transform": [{"filter": "datum.q == '7.6'"}], "mark": {"type": "point", "shape": "M-1,-1L1,-1L0,1Z", "size": 110, "filled": true, "opacity": 1, "color": "#00007f"},
     "encoding": {"x": {"field": "median", "type": "quantitative", "scale": {"domain": [-0.125,6.125], "nice": false, "zero": false, "padding": 0}, "axis": null},
                  "y": {"datum": 86.3, "type": "quantitative", "scale": {"domain": [0,100], "range": [112.3,33.3], "nice": false, "zero": false}, "axis": null}}}
   ]},
  {"width": 253, "height": 94, "data": {"name": "stats"}, "transform": [{"filter": "datum.q == '7.6'"}],
   "mark": {"type": "text", "align": "left", "baseline": "alphabetic", "fontSize": 15.7},
   "encoding": {"x": {"field": "q", "type": "nominal", "scale": {"type": "point", "range": [0,348]}, "axis": null},
                "y": {"field": "line", "type": "quantitative", "scale": {"domain": [0,1], "range": [41.8,57.8], "nice": false, "zero": false}, "axis": null},
                "color": {"field": "stat", "type": "nominal", "scale": {"domain": ["n","mw","md","s"], "range": ["#111111","#a31515","#1f1fa3","#111111"]}, "legend": null},
                "text": {"field": "text"}}}
]
}
